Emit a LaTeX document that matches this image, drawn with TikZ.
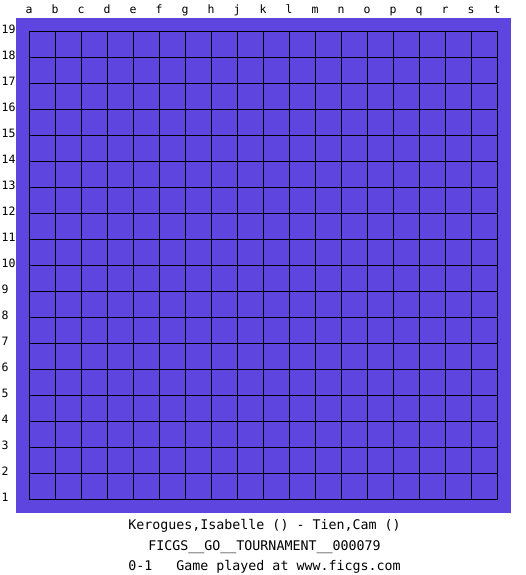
\documentclass[tikz,border=0pt]{standalone}
\usepackage{fontspec}
\setmonofont{DejaVu Sans Mono}
\definecolor{gbBoard}{HTML}{5F45E0}
\definecolor{gbInk}{HTML}{000000}
\newcommand{\GBType}{\ttfamily\fontsize{11.5}{13}\selectfont}
\newcommand{\GBCaption}{\ttfamily\fontsize{13.3}{16}\selectfont}
\tikzset{gb/base/.style={x=1pt,y=-1pt,line cap=butt,line join=miter,
  every node/.style={font=\GBType,inner sep=0pt,text=gbInk}},
  gb/board/.style={fill=gbBoard,draw=none},
  gb/grid/.style={draw=gbInk,line width=1.1pt},
  gb/caption/.style={font=\GBCaption,anchor=base}}

\begin{document}
\begin{tikzpicture}[gb/base]
  \useasboundingbox (0,0) rectangle (525,575);
  \fill[white] (0,0) rectangle (525,575);
  % Board area and its 19x19 lines, one pixel per point.
  \path[gb/board] (16,18) rectangle (511,513);
  \foreach \i in {0,1,...,18}{%
    \draw[gb/grid] ({29.5+26*\i},31.5)--({29.5+26*\i},499.5);
    \draw[gb/grid] (29.5,{31.5+26*\i})--(497.5,{31.5+26*\i});}
  % Coordinates: letters skip i, numbers count up from the bottom.
  \foreach \lab [count=\i from 0] in {a,b,c,d,e,f,g,h,j,k,l,m,n,o,p,q,r,s,t}{%
    \node[anchor=base] (col-\lab) at ({29+26*\i},14) {\lab};}
  \foreach \n in {1,...,19}{%
    \node[anchor=base west] (row-\n) at (1.5,{33.5+26*(19-\n)}) {\n};}
  \node[gb/caption] (players) at (264.5,529) {Kerogues,Isabelle () - Tien,Cam ()};
  \node[gb/caption] (event) at (264.5,550) {FICGS\_\_GO\_\_TOURNAMENT\_\_000079};
  \node[gb/caption] (result) at (264.5,570.5) {0-1\ \ \ Game played at www.ficgs.com};
\end{tikzpicture}
\end{document}
